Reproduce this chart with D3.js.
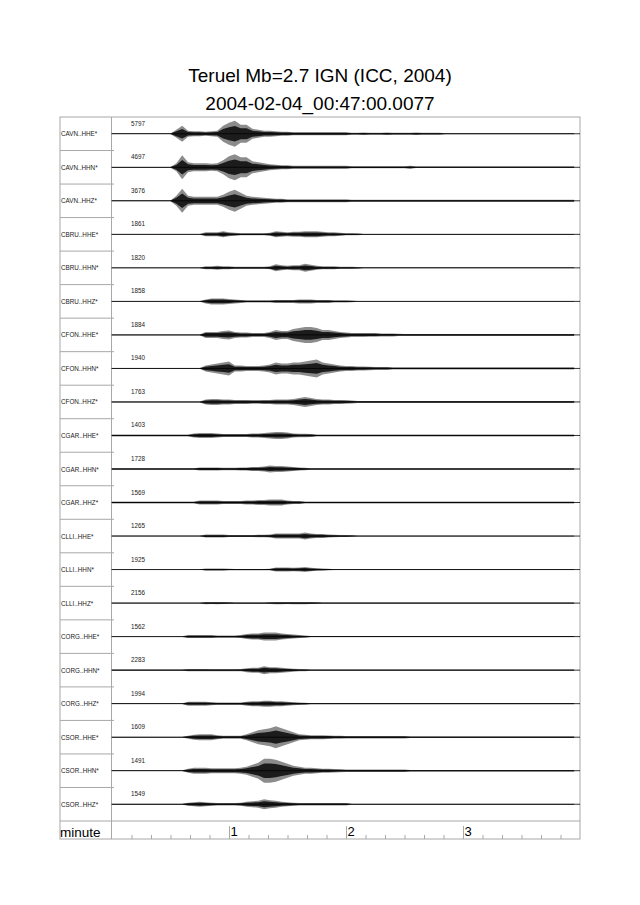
<!DOCTYPE html>
<html>
<head>
<meta charset="utf-8">
<script src="https://cdn.jsdelivr.net/npm/d3@7"></script>
<style>
  body { margin: 0; background: #fff; }
  svg { display: block; font-family: "Liberation Sans", Arial, Helvetica, sans-serif; }
</style>
</head>
<body>
<svg id="chart" width="640" height="905"></svg>
<script>
// station / channel names, peak counts printed above each trace
const stations = ["CAVN", "CBRU", "CFON", "CGAR", "CLLI", "CORG", "CSOR"];
const components = ["HHE", "HHN", "HHZ"];
const peakCounts = [5797, 4697, 3676, 1861, 1820, 1858, 1884, 1940, 1763, 1403, 1728, 1569,
  1265, 1925, 2156, 1562, 2283, 1994, 1609, 1491, 1549];
const minuteTicks = [60, 120, 180];
const minuteLabels = ["1", "2", "3"];

// trace envelopes (half amplitude as plotted) every 3 s from 0 s
const cavnHHE = [0.3,0.3,0.3,0.3,0.3,0.3,0.3,0.3,0.3,0.3, 0.3,4,8,3,2.5,2.5,2,2.5,3,8, 11,13,9,9,5,4,3,3,2.5,2, 2,1.5,1.5,1.5,1.5,1.5,1.5,1.5,1.5,1.5, 1.5,1,1,1.2,1,1,1,1.2,1,1, 1,1,1.2,1,1,1,1,0.6,0.6,0.6, 0.6,0.6,0.6,0.6,0.6,0.6,0.6,0.6,0.6,0.6, 0.6,0.6,0.6,0.6,0.6,0.6,0.6,0.6,0.6,0.6];
const cavnHHN = [0.4,0.4,0.4,0.4,0.4,0.4,0.4,0.4,0.4,0.4, 0.4,4,12,5,4,4,4,3.5,4,7, 11,13,10,10,6,5,4,3,2.5,2, 2,1.5,1.5,1.5,1.5,1.5,1.5,1.5,1.5,1.5, 1.5,1,1,1,1,1,1,1,1,1, 1,1.5,0.8,0.8,0.8,0.8,0.8,0.8,0.8,0.8, 0.8,0.8,0.8,0.8,0.8,0.8,0.8,0.8,0.8,0.8, 0.8,0.8,0.8,0.8,0.8,0.8,0.8,0.8,0.8,0.8];
const cavnHHZ = [0.4,0.4,0.4,0.4,0.4,0.4,0.4,0.4,0.4,0.4, 0.4,5,12,5,4,4,4,4,4,6, 9,11,8,5,4,3.5,3,2.5,2,2, 1.5,1.5,1.5,1.5,1.5,1.5,1.5,1.5,1.5,1.5, 1.5,1,1,1,1,1,1,1,1,1, 1,1,1,1,1,1,1,1,1,1, 1,1,1,1,1,1,1,1,1,1, 1,1,1,1,1,1,1,1,1,1];
const cbruHHE = [0.3,0.3,0.3,0.3,0.3,0.3,0.3,0.3,0.3,0.3, 0.3,0.3,0.3,0.3,0.3,0.3,2,2,2,3, 2,1.5,1,1,1,1,1,1.5,3,2.5, 2,2.5,2.5,3,3,3,2.5,2,2,1.5, 1,1,0.8,0.4,0.4,0.4,0.4,0.4,0.4,0.4, 0.4,0.4,0.4,0.4,0.4,0.4,0.4,0.4,0.4,0.4, 0.4,0.4,0.4,0.4,0.4,0.4,0.4,0.4,0.4,0.4, 0.4,0.4,0.4,0.4,0.4,0.4,0.4,0.4,0.4,0.4];
const cbruHHN = [0.3,0.3,0.3,0.3,0.3,0.3,0.3,0.3,0.3,0.3, 0.3,0.3,0.3,0.3,0.3,0.3,1.5,1.5,2,1.5, 1.5,1,1,1,1,1,1,1.5,3.5,2.5, 2,2.5,2.5,4,3,2,1.5,1.5,1.5,1, 1,1,0.8,0.4,0.4,0.4,0.4,0.4,0.4,0.4, 0.4,0.4,0.4,0.4,0.4,0.4,0.4,0.4,0.4,0.4, 0.4,0.4,0.4,0.4,0.4,0.4,0.4,0.4,0.4,0.4, 0.4,0.4,0.4,0.4,0.4,0.4,0.4,0.4,0.4,0.4];
const cbruHHZ = [0.3,0.3,0.3,0.3,0.3,0.3,0.3,0.3,0.3,0.3, 0.3,0.3,0.3,0.3,0.3,0.3,2,3,3,3, 2.5,2,1.5,1,1,1,1,1,1.5,1.5, 1.5,1.5,2,2,2,1.5,1.5,1.5,1,1, 1,0.8,0.4,0.4,0.4,0.4,0.4,0.4,0.4,0.4, 0.4,0.4,0.4,0.4,0.4,0.4,0.4,0.4,0.4,0.4, 0.4,0.4,0.4,0.4,0.4,0.4,0.4,0.4,0.4,0.4, 0.4,0.4,0.4,0.4,0.4,0.4,0.4,0.4,0.4,0.4];
const cfonHHE = [0.4,0.4,0.4,0.4,0.4,0.4,0.4,0.4,0.4,0.4, 0.4,0.4,0.4,0.4,0.4,0.4,3,3,3,4, 4.5,3,2.5,2.5,2,2,2,3,5,4, 4,6,7,8,8,7,5,5,4,3, 2.5,2,2,2,1.8,1.8,1.5,1.5,1.5,1.2, 1,1,1,1,1,1,1,1,1,1, 1,1,1,1,1,1,1,1,1,1, 1,1,1,1,1,1,1,1,1,1];
const cfonHHN = [0.4,0.4,0.4,0.4,0.4,0.4,0.4,0.4,0.4,0.4, 0.4,0.4,0.4,0.4,0.4,0.4,3,4,5,6, 7,3,3,2.5,2.5,2.5,3,4,6,5, 5,6,6,7,8,9,6,5,4,3, 2.5,2.5,2,2,1.8,1.5,1.5,1.5,1,1, 1,1,1,1,1,1,1,1,1,1, 1,1,1,1,1,1,1,1,1,1, 1,1,1,1,1,1,1,1,1,1];
const cfonHHZ = [0.5,0.5,0.5,0.5,0.5,0.5,0.5,0.5,0.5,0.5, 0.5,0.5,0.5,0.5,0.5,0.5,2.5,3,3,2.5, 2.5,2,2,2,1.8,1.8,2,2,2.5,2.5, 2.5,3,4,5,4,3,2.5,2.5,2,2, 1.8,1.5,1,1,1,1,1,1,1,1, 1,1,1,1,1,1,1,1,1,1, 1,1,1,1,1,1,1,1,1,1, 1,1,1,1,1,1,1,1,1,1];
const cgarHHE = [1,1,1,1,1,1,1,1,1,1, 1,1,1,1,2,2.5,2.5,2.5,2,1.5, 1.5,1.5,1.5,1.5,2,2,2.5,3,3.5,3.5, 3,2,1.8,1.8,1.5,1,1,1,1,1, 1,1,1,1,1,1,1,1,1,1, 1,1,1,1,1,1,1,1,1,1, 1,1,1,1,1,1,1,1,1,1, 1,1,1,1,1,1,1,1,1,1];
const cgarHHN = [0.8,0.8,0.8,0.8,0.8,0.8,0.8,0.8,0.8,0.8, 0.8,0.8,0.8,0.8,0.8,1.5,1.5,1.5,1.5,1.2, 1.2,1.2,1.5,1.5,2,2,2.5,3.5,3,3, 2.5,2,1.5,1.2,0.8,0.8,0.8,0.8,0.8,0.8, 0.8,0.8,0.8,0.8,0.8,0.8,0.8,0.8,0.8,0.8, 0.8,0.8,0.8,0.8,0.8,0.8,0.8,0.8,0.8,0.8, 0.8,0.8,0.8,0.8,0.8,0.8,0.8,0.8,0.8,0.8, 0.8,0.8,0.8,0.8,0.8,0.8,0.8,0.8,0.8,0.8];
const cgarHHZ = [1,1,1,1,1,1,1,1,1,1, 1,1,1,1,1,2,2,2,2,1.5, 1.5,1.5,1.5,2,2,2.5,2.5,3,3,3, 2,1.5,1.5,1,1,1,1,1,1,1, 1,1,1,1,1,1,1,1,1,1, 1,1,1,1,1,1,1,1,1,1, 1,1,1,1,1,1,1,1,1,1, 1,1,1,1,1,1,1,1,1,1];
const clliHHE = [0.3,0.3,0.3,0.3,0.3,0.3,0.3,0.3,0.3,0.3, 0.3,0.3,0.3,0.3,0.3,0.3,1.5,1.5,1.5,1.5, 1,1,1,1,1,1.2,1.2,1.5,2.5,2.5, 2.5,2.5,2.5,3.5,2.5,2,2,1.5,1.2,1, 1,0.8,0.4,0.4,0.4,0.4,0.4,0.4,0.4,0.4, 0.4,0.4,0.4,0.4,0.4,0.4,0.4,0.4,0.4,0.4, 0.4,0.4,0.4,0.4,0.4,0.4,0.4,0.4,0.4,0.4, 0.4,0.4,0.4,0.4,0.4,0.4,0.4,0.4,0.4,0.4];
const clliHHN = [0.3,0.3,0.3,0.3,0.3,0.3,0.3,0.3,0.3,0.3, 0.3,0.3,0.3,0.3,0.3,0.3,1,1,1,1, 0.8,0.6,0.6,0.6,0.6,0.6,0.6,0.8,2,2, 2,1.8,2,2.5,1.8,1.2,1,0.8,0.4,0.4, 0.4,0.4,0.4,0.4,0.4,0.4,0.4,0.4,0.4,0.4, 0.4,0.4,0.4,0.4,0.4,0.4,0.4,0.4,0.4,0.4, 0.4,0.4,0.4,0.4,0.4,0.4,0.4,0.4,0.4,0.4, 0.4,0.4,0.4,0.4,0.4,0.4,0.4,0.4,0.4,0.4];
const clliHHZ = [0.4,0.4,0.4,0.4,0.4,0.4,0.4,0.4,0.4,0.4, 0.4,0.4,0.4,0.4,0.4,0.4,1.2,1,1.2,1, 0.8,0.6,0.6,0.6,0.6,0.6,0.6,0.8,1.2,1.2, 1,1.2,1.2,1.2,1,0.8,0.5,0.5,0.5,0.5, 0.5,0.5,0.5,0.5,0.5,0.5,0.5,0.5,0.5,0.5, 0.5,0.5,0.5,0.5,0.5,0.5,0.5,0.5,0.5,0.5, 0.5,0.5,0.5,0.5,0.5,0.5,0.5,0.5,0.5,0.5, 0.5,0.5,0.5,0.5,0.5,0.5,0.5,0.5,0.5,0.5];
const corgHHE = [0.4,0.4,0.4,0.4,0.4,0.4,0.4,0.4,0.4,0.4, 0.4,0.4,0.4,1.5,1.5,1.5,1.5,1.5,1.2,1.2, 1.2,1.2,1.5,2.5,3,3,4,4,4,3, 2.5,2,1.5,1.2,0.5,0.5,0.5,0.5,0.5,0.5, 0.5,0.5,0.5,0.5,0.5,0.5,0.5,0.5,0.5,0.5, 0.5,0.5,0.5,0.5,0.5,0.5,0.5,0.5,0.5,0.5, 0.5,0.5,0.5,0.5,0.5,0.5,0.5,0.5,0.5,0.5, 0.5,0.5,0.5,0.5,0.5,0.5,0.5,0.5,0.5,0.5];
const corgHHN = [0.6,0.6,0.6,0.6,0.6,0.6,0.6,0.6,0.6,0.6, 0.6,0.6,0.6,1.2,1.2,1.2,1.2,1,1,1, 1,1,1.2,2,2.5,2.5,4,3,3,2.5, 2,1.5,1.2,1,0.7,0.7,0.7,0.7,0.7,0.7, 0.7,0.7,0.7,0.7,0.7,0.7,0.7,0.7,0.7,0.7, 0.7,0.7,0.7,0.7,0.7,0.7,0.7,0.7,0.7,0.7, 0.7,0.7,0.7,0.7,0.7,0.7,0.7,0.7,0.7,0.7, 0.7,0.7,0.7,0.7,0.7,0.7,0.7,0.7,0.7,0.7];
const corgHHZ = [0.4,0.4,0.4,0.4,0.4,0.4,0.4,0.4,0.4,0.4, 0.4,0.4,0.4,2,2,2,2,1.5,1.2,1.2, 1.2,1.2,1.2,2,2.5,2.5,3,3,2.5,2.5, 2,1.5,1.2,1,0.5,0.5,0.5,0.5,0.5,0.5, 0.5,0.5,0.5,0.5,0.5,0.5,0.5,0.5,0.5,0.5, 0.5,0.5,0.5,0.5,0.5,0.5,0.5,0.5,0.5,0.5, 0.5,0.5,0.5,0.5,0.5,0.5,0.5,0.5,0.5,0.5, 0.5,0.5,0.5,0.5,0.5,0.5,0.5,0.5,0.5,0.5];
const csorHHE = [0.4,0.4,0.4,0.4,0.4,0.4,0.4,0.4,0.4,0.4, 0.4,0.4,0.4,1.5,2.5,3,3,3,2,1.5, 1.5,1.5,1.5,3,5,7,8,9,11,9, 7,5,3,2.5,2,2,2,1.8,1.5,1.5, 1.2,1.2,1.2,1.2,1.2,1.2,1.2,1.2,1.2,1.2, 1.2,0.8,0.8,0.8,0.8,0.8,0.8,0.8,0.8,0.8, 0.8,0.8,0.8,0.8,0.8,0.8,0.8,0.8,0.8,0.8, 0.8,0.8,0.8,0.8,0.8,0.8,0.8,0.8,0.8,0.8];
const csorHHN = [0.4,0.4,0.4,0.4,0.4,0.4,0.4,0.4,0.4,0.4, 0.4,0.4,0.4,2,3,3,3,2.5,2.5,2.5, 2.5,2.5,3,4,6,8,12,12,11,9, 7,5,4,3,3,2.5,2,2,1.8,1.5, 1.2,1.2,1.2,1.2,1.2,1.2,1.2,1.2,1.2,1.2, 1.2,0.8,0.8,0.8,0.8,0.8,0.8,0.8,0.8,0.8, 0.8,0.8,0.8,0.8,0.8,0.8,0.8,0.8,0.8,0.8, 0.8,0.8,0.8,0.8,0.8,0.8,0.8,0.8,0.8,0.8];
const csorHHZ = [0.4,0.4,0.4,0.4,0.4,0.4,0.4,0.4,0.4,0.4, 0.4,0.4,0.4,1.5,2,2.5,2,1.5,1.2,1.2, 1.2,1.2,1.5,2.5,3,3.5,5,4,3.5,2.5, 2,1.5,1.2,1.2,1.2,1.2,1.2,1.2,1.2,1.2, 1.2,0.6,0.6,0.6,0.6,0.6,0.6,0.6,0.6,0.6, 0.6,0.6,0.6,0.6,0.6,0.6,0.6,0.6,0.6,0.6, 0.6,0.6,0.6,0.6,0.6,0.6,0.6,0.6,0.6,0.6, 0.6,0.6,0.6,0.6,0.6,0.6,0.6,0.6,0.6,0.6];

const envelopes = [cavnHHE, cavnHHN, cavnHHZ, cbruHHE, cbruHHN, cbruHHZ, cfonHHE, cfonHHN, cfonHHZ,
  cgarHHE, cgarHHN, cgarHHZ, clliHHE, clliHHN, clliHHZ, corgHHE, corgHHN, corgHHZ,
  csorHHE, csorHHN, csorHHZ];
const sampleStep = 3; // seconds between envelope values

const traces = [];
stations.forEach(s => components.forEach(c => traces.push({label: s + ".." + c + "*"})));
traces.forEach((t, i) => { t.peak = peakCounts[i]; t.env = envelopes[i]; });

// layout
const boxLeft = 60, labelRight = 111.5, boxRight = 580;
const boxTop = 117, axisTop = 821, boxBottom = 839;
const rowH = (axisTop - boxTop) / traces.length;

const svg = d3.select("#chart");

svg.append("text")
  .attr("x", 320).attr("y", 82)
  .attr("text-anchor", "middle")
  .style("font-size", "19px")
  .text("Teruel Mb=2.7 IGN (ICC, 2004)");
svg.append("text")
  .attr("x", 320).attr("y", 109.5)
  .attr("text-anchor", "middle")
  .style("font-size", "19px")
  .text("2004-02-04_00:47:00.0077");

let x = d3.scaleLinear().domain([0, 240]).range([labelRight + 0.5, boxRight]);
let amp = d3.scaleLinear().domain([-1, 1]).range([1, -1]); // envelope units are plotted pixels

let grid = svg.append("g")
  .attr("stroke", "#a8a8a8")
  .attr("stroke-width", 1)
  .attr("fill", "none");

// row separators in the label column
grid.selectAll("line.sep")
  .data(d3.range(1, traces.length))
  .join("line")
  .attr("class", "sep")
  .attr("x1", boxLeft).attr("x2", labelRight)
  .attr("y1", i => boxTop + i * rowH).attr("y2", i => boxTop + i * rowH);

// small marks on the plot's left edge at row boundaries
grid.selectAll("line.mark")
  .data(d3.range(1, traces.length))
  .join("line")
  .attr("class", "mark")
  .attr("x1", labelRight).attr("x2", labelRight + 2.5)
  .attr("y1", i => boxTop + i * rowH).attr("y2", i => boxTop + i * rowH);

grid.append("rect")
  .attr("x", boxLeft).attr("y", boxTop)
  .attr("width", boxRight - boxLeft).attr("height", boxBottom - boxTop);
grid.append("line")
  .attr("x1", labelRight).attr("x2", labelRight)
  .attr("y1", boxTop).attr("y2", boxBottom);
grid.append("line")
  .attr("x1", boxLeft).attr("x2", boxRight)
  .attr("y1", axisTop).attr("y2", axisTop);

let area = d3.area()
  .x((d, i) => x(i * sampleStep))
  .curve(d3.curveLinear);

let rows = svg.selectAll("g.trace")
  .data(traces)
  .join("g")
  .attr("class", "trace")
  .attr("transform", (d, i) => "translate(0," + (boxTop + i * rowH + rowH / 2) + ")");

// full envelope drawn grey, the denser core of the wiggles drawn black on top
rows.append("path")
  .attr("d", d => area.y0(v => amp(-v)).y1(v => amp(v))(d.env))
  .attr("fill", "#000")
  .attr("fill-opacity", 0.45);

rows.append("path")
  .attr("d", d => area.y0(v => amp(-0.6 * v)).y1(v => amp(0.6 * v))(d.env))
  .attr("fill", "#000")
  .attr("fill-opacity", 0.8);

rows.append("line")
  .attr("x1", labelRight).attr("x2", boxRight)
  .attr("y1", 0).attr("y2", 0)
  .attr("stroke", "#000")
  .attr("stroke-width", 0.8);

rows.append("text")
  .attr("x", boxLeft + 1).attr("y", 2.5)
  .style("font-size", "6.3px")
  .attr("fill", "#222")
  .text(d => d.label);

rows.append("text")
  .attr("x", 131).attr("y", -8)
  .style("font-size", "6.3px")
  .attr("fill", "#222")
  .text(d => d.peak);

// time axis in the bottom row
let minor = d3.range(10, 240, 10).filter(s => s % 60 !== 0);

svg.append("g")
  .attr("transform", "translate(0," + boxBottom + ")")
  .call(d3.axisTop(x).tickValues(minor).tickSize(4).tickFormat(""))
  .call(g => g.select(".domain").remove())
  .call(g => g.selectAll("line").attr("stroke", "#a8a8a8"));

svg.append("g")
  .attr("transform", "translate(0," + boxBottom + ")")
  .call(d3.axisTop(x).tickValues(minuteTicks).tickSize(13).tickFormat((d, i) => minuteLabels[i]))
  .call(g => g.select(".domain").remove())
  .call(g => g.selectAll("line").attr("stroke", "#a8a8a8"))
  .call(g => g.selectAll("text")
    .attr("y", -3).attr("x", 1)
    .attr("text-anchor", "start")
    .attr("fill", "#000")
    .style("font-size", "13px")
    .style("font-family", "\"Liberation Sans\", Arial, sans-serif"));

svg.append("text")
  .attr("x", boxLeft).attr("y", boxBottom - 2.5)
  .style("font-size", "13.5px")
  .text("minute");
</script>
</body>
</html>
